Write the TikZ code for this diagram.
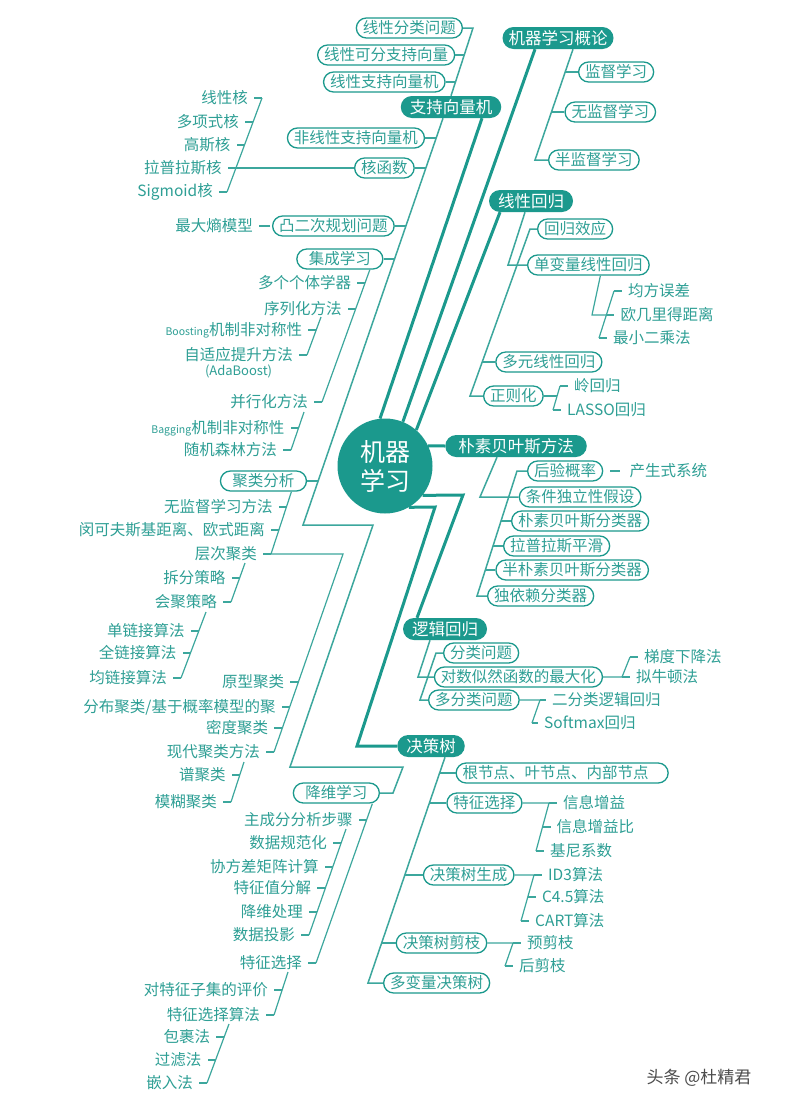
\documentclass[tikz,border=0pt]{standalone}
\usepackage{fontspec}
\setmainfont{Noto Sans CJK SC}
\usetikzlibrary{positioning}
\definecolor{mlteal}{HTML}{1B998D}
\definecolor{mltext}{HTML}{2E9F95}
\definecolor{mlline}{HTML}{3CA79D}
\newcommand\mlhubfont{\fontsize{16.5}{18}\selectfont}
\newcommand\mltopicfont{\fontsize{15.5}{17}\selectfont}
\newcommand\mlsmallfont{\fontsize{10.5}{12}\selectfont}
\tikzset{corebox/.style={circle,fill=mlteal,text=white,minimum size=95pt,inner sep=0pt,align=center,font=\fontsize{25}{29}\selectfont},
hubbox/.style={fill=mlteal,text=white,rounded corners=11pt,minimum height=22pt,inner xsep=9pt,inner ysep=1pt,font=\mlhubfont},
topicbox/.style={draw=mlteal,line width=1.3pt,fill=white,text=mltext,rounded corners=10pt,minimum height=20pt,inner xsep=6.5pt,inner ysep=1pt,font=\mltopicfont},
mainbox/.style={topicbox,minimum width=86pt},
leaf/.style={text=mltext,inner sep=2pt,font=\mltopicfont},
trunk/.style={draw=mlteal,line width=3pt},
branch/.style={draw=mlline,line width=1.5pt},
twig/.style={draw=mlline,line width=1.2pt},
tick/.style={twig,shorten >=4pt}}
\begin{document}
\begin{tikzpicture}[x=1pt,y=-1pt]
\path[use as bounding box,fill=white] (0,0) rectangle (810,1100);
% centre and main branches
\node[corebox] (ml) at (385,466) {机器\\学习};
\node[hubbox,inner xsep=6pt] (intro) at (558,38) {机器学习概论};
\node[hubbox] (svm) at (451,107) {支持向量机};
\node[hubbox] (linreg) at (531,201) {线性回归};
\node[hubbox,inner xsep=13pt] (nb) at (516,446) {朴素贝叶斯方法};
\node[hubbox] (lr) at (445,629) {逻辑回归};
\node[hubbox] (dt) at (431,746) {决策树};
\coordinate (lrk) at (463,495);
\coordinate (dtk1) at (435,507);
\coordinate (dtk2) at (357,746);
\draw[trunk] (ml.96) -- ([xshift=31pt]svm.south);
\draw[trunk] (ml.68) -- ([xshift=-23pt]intro.south);
\draw[trunk] (ml.49) -- ([xshift=-31pt]linreg.south);
\draw[trunk] (ml.25) -- (nb.west);
\draw[trunk] (ml.-38) -- (lrk) -- ([xshift=-28pt]lr.north);
\draw[trunk] (ml.-60) -- (dtk1) -- (dtk2) -- (dt.west);
% support vector machine
\coordinate (u0) at (473,28);
\coordinate (u1) at (464.3,55);
\coordinate (u2) at (455.7,82);
\node[topicbox,left=10pt of u0] (svm1) {线性分类问题};
\node[topicbox,left=9pt of u1] (svm2) {线性可分支持向量};
\node[topicbox,left=10pt of u2] (svm3) {线性支持向量机};
\draw[branch] (svm1) -- (u0) -- (svm.north);
\draw[branch] (svm2) -- (u1) (svm3) -- (u2);
\coordinate (sa) at ([xshift=-8pt]svm.south);
\coordinate (s1) at (436.1,138);
\coordinate (s2) at (425.8,168);
\coordinate (s3) at (405.8,226);
\coordinate (s4) at (394.5,259);
\coordinate (s5) at (318.1,481);
\coordinate (sp) at (303,525);
\coordinate (sq) at (373,525);
\coordinate (sr) at (290,767);
\coordinate (ss) at (403,767);
\coordinate (st) at (393,793);
\node[topicbox,left=11pt of s1] (nlsvm) {非线性支持向量机};
\node[topicbox,left=11pt of s2] (kern) {核函数};
\node[topicbox,left=11pt of s3] (qp) {凸二次规划问题};
\node[mainbox,left=11pt of s4] (ens) {集成学习};
\node[mainbox,left=11pt of s5] (clu) {聚类分析};
\node[mainbox,left=13pt of st] (dr) {降维学习};
\draw[branch] (sa) -- (sp) -- (sq) -- (sr) -- (ss) -- (st) -- (dr);
\draw[branch] (nlsvm) -- (s1) (kern) -- (s2) (qp) -- (s3) (ens) -- (s4) (clu) -- (s5);
% kernels
\coordinate (k1) at (262,98);
\coordinate (k2) at (253.1,122);
\coordinate (k3) at (244.5,145);
\coordinate (k4) at (235.9,168);
\coordinate (k5) at (227,192);
\node[leaf,left=12pt of k1] (kl1) {线性核};
\node[leaf,left=12pt of k2] (kl2) {多项式核};
\node[leaf,left=12pt of k3] (kl3) {高斯核};
\node[leaf,left=12pt of k4] (kl4) {拉普拉斯核};
\node[leaf,left=12pt of k5] (kl5) {Sigmoid核};
\draw[twig] (kern) -- (k4);
\draw[twig] (k1) -- (k5);
\draw[tick] (k1) edge (kl1) (k2) edge (kl2) (k3) edge (kl3) (k4) edge (kl4) (k5) edge (kl5);
\node[leaf,left=17pt of qp] (maxent) {最大熵模型};
\draw[tick,shorten <=2pt] (qp) -- (maxent);
% ensemble learning
\coordinate (e0) at ([xshift=30pt]ens.south);
\coordinate (e1) at (365.4,283);
\coordinate (e2) at (355.9,309);
\coordinate (e3) at (322,402);
\node[leaf,left=12pt of e1] (el1) {多个个体学器};
\node[leaf,left=12pt of e2] (el2) {序列化方法};
\node[leaf,left=12pt of e3] (el3) {并行化方法};
\draw[twig] (e0) -- (e3);
\draw[tick] (e1) edge (el1) (e2) edge (el2) (e3) edge (el3);
\coordinate (b1) at (321,317);
\coordinate (b2) at (316.2,330);
\coordinate (b3) at (307,355);
\node[leaf,left=12pt of b2] (bl1) {{\mlsmallfont Boosting}机制非对称性};
\node[leaf,left=12pt of b3] (bl2) {自适应提升方法};
\node[leaf,below=-2pt of bl2,font=\fontsize{13}{15}\selectfont] (bl3) {(AdaBoost)};
\draw[twig] (b1) -- (b3);
\draw[tick] (b2) edge (bl1) (b3) edge (bl2);
\coordinate (p1) at (304,412);
\coordinate (p2) at (298.5,428);
\coordinate (p3) at (291,450);
\node[leaf,left=12pt of p2] (pl1) {{\mlsmallfont Bagging}机制非对称性};
\node[leaf,left=12pt of p3] (pl2) {随机森林方法};
\draw[twig] (p1) -- (p3);
\draw[tick] (p2) edge (pl1) (p3) edge (pl2);
% clustering
\coordinate (c0) at ([xshift=28pt]clu.south);
\coordinate (c1) at (286.8,507);
\coordinate (c2) at (279,530);
\coordinate (c3) at (271,554);
\coordinate (c4) at (343,554);
\coordinate (c5) at (298.4,682);
\coordinate (c6) at (289.7,707);
\coordinate (c7) at (282.4,728);
\coordinate (c8) at (274,752);
\node[leaf,left=12pt of c1] (cl1) {无监督学习方法};
\node[leaf,left=12pt of c2] (cl2) {闵可夫斯基距离、欧式距离};
\node[leaf,left=12pt of c3] (cl3) {层次聚类};
\node[leaf,left=12pt of c5] (cl4) {原型聚类};
\node[leaf,left=12pt of c6] (cl5) {分布聚类/基于概率模型的聚};
\node[leaf,left=12pt of c7] (cl6) {密度聚类};
\node[leaf,left=12pt of c8] (cl7) {现代聚类方法};
\draw[twig] (c0) -- (c3) -- (c4) -- (c8);
\draw[tick] (c1) edge (cl1) (c2) edge (cl2) (c3) edge (cl3) (c5) edge (cl4) (c6) edge (cl5) (c7) edge (cl6) (c8) edge (cl7);
\coordinate (h1) at (245,563);
\coordinate (h2) at (239.6,578);
\coordinate (h3) at (231,602);
\node[leaf,left=12pt of h2] (hl1) {拆分策略};
\node[leaf,left=12pt of h3] (hl2) {会聚策略};
\draw[twig] (h1) -- (h3);
\draw[tick] (h2) edge (hl1) (h3) edge (hl2);
\coordinate (g1) at (206,612);
\coordinate (g2) at (198.8,631);
\coordinate (g3) at (190.5,653);
\coordinate (g4) at (181,678);
\node[leaf,left=12pt of g2] (gl1) {单链接算法};
\node[leaf,left=12pt of g3] (gl2) {全链接算法};
\node[leaf,left=12pt of g4] (gl3) {均链接算法};
\draw[twig] (g1) -- (g4);
\draw[tick] (g2) edge (gl1) (g3) edge (gl2) (g4) edge (gl3);
\coordinate (m1) at (244,762);
\coordinate (m2) at (239.8,775);
\coordinate (m3) at (231,802);
\node[leaf,left=12pt of m2] (mo1) {谱聚类};
\node[leaf,left=12pt of m3] (mo2) {模糊聚类};
\draw[twig] (m1) -- (m3);
\draw[tick] (m2) edge (mo1) (m3) edge (mo2);
% dimension reduction
\coordinate (d0) at ([xshift=36pt]dr.south);
\coordinate (d1) at (366.9,820);
\coordinate (d2) at (316,963);
\node[leaf,left=12pt of d1] (dl1) {主成分分析步骤};
\node[leaf,left=12pt of d2] (dl2) {特征选择};
\draw[twig] (d0) -- (d2);
\draw[tick] (d1) edge (dl1) (d2) edge (dl2);
\coordinate (q0) at (346,829);
\coordinate (q1) at (341.1,843);
\coordinate (q2) at (332.7,867);
\coordinate (q3) at (325.4,888);
\coordinate (q4) at (317,912);
\coordinate (q5) at (309,935);
\node[leaf,left=12pt of q1] (ql1) {数据规范化};
\node[leaf,left=12pt of q2] (ql2) {协方差矩阵计算};
\node[leaf,left=12pt of q3] (ql3) {特征值分解};
\node[leaf,left=12pt of q4] (ql4) {降维处理};
\node[leaf,left=12pt of q5] (ql5) {数据投影};
\draw[twig] (q0) -- (q5);
\draw[tick] (q1) edge (ql1) (q2) edge (ql2) (q3) edge (ql3) (q4) edge (ql4) (q5) edge (ql5);
\coordinate (f0) at (288,972);
\coordinate (f1) at (282.1,990);
\coordinate (f2) at (274,1015);
\node[leaf,left=12pt of f1] (fl1) {对特征子集的评价};
\node[leaf,left=12pt of f2] (fl2) {特征选择算法};
\draw[twig] (f0) -- (f2);
\draw[tick] (f1) edge (fl1) (f2) edge (fl2);
\coordinate (w0) at (229,1024);
\coordinate (w1) at (224.2,1037);
\coordinate (w2) at (215.6,1060);
\coordinate (w3) at (207,1083);
\node[leaf,left=12pt of w1] (wl1) {包裹法};
\node[leaf,left=12pt of w2] (wl2) {过滤法};
\node[leaf,left=12pt of w3] (wl3) {嵌入法};
\draw[twig] (w0) -- (w3);
\draw[tick] (w1) edge (wl1) (w2) edge (wl2) (w3) edge (wl3);
% introduction
\coordinate (i0) at ([xshift=15pt]intro.south);
\coordinate (i1) at (565,72);
\coordinate (i2) at (551.4,112);
\coordinate (i3) at (535,160);
\node[topicbox,right=13pt of i1] (sup) {监督学习};
\node[topicbox,right=13pt of i2] (unsup) {无监督学习};
\node[topicbox,right=13pt of i3] (semi) {半监督学习};
\draw[branch] (i0) -- (i3) -- (semi);
\draw[branch] (i1) -- (sup) (i2) -- (unsup);
% linear regression
\coordinate (la0) at ([xshift=-6pt]linreg.south);
\coordinate (la1) at (508,265);
\coordinate (lb0) at (530,229);
\coordinate (lb2) at (482.2,362);
\coordinate (lb3) at (470,396);
\node[topicbox,right=7pt of lb0] (effect) {回归效应};
\node[topicbox,right=19pt of la1] (uni) {单变量线性回归};
\node[topicbox,right=13pt of lb2] (multireg) {多元线性回归};
\node[topicbox,right=13pt of lb3] (reg) {正则化};
\draw[branch] (la0) -- (la1) -- (uni);
\draw[branch] (effect) -- (lb0) -- (lb3) -- (reg);
\draw[branch] (lb2) -- (multireg);
\coordinate (ua0) at ([xshift=12pt]uni.south);
\coordinate (ua1) at (592,315);
\coordinate (ub0) at (614,291);
\coordinate (ub1) at (606.3,315);
\coordinate (ub2) at (599,338);
\node[leaf,right=12pt of ub0] (uv1) {均方误差};
\node[leaf,right=12pt of ub1] (uv2) {欧几里得距离};
\node[leaf,right=12pt of ub2] (uv3) {最小二乘法};
\draw[twig] (ua0) -- (ua1) -- (ub1);
\draw[twig] (ub0) -- (ub2);
\draw[tick] (ub0) edge (uv1) (ub1) edge (uv2) (ub2) edge (uv3);
\coordinate (rg0) at (560,386);
\coordinate (rg1) at (557.1,396);
\coordinate (rg2) at (553,410);
\node[leaf,right=12pt of rg0] (ridge) {岭回归};
\node[leaf,right=12pt of rg2] (lasso) {LASSO回归};
\draw[twig] (reg) -- (rg1);
\draw[twig] (rg0) -- (rg2);
\draw[tick] (rg0) edge (ridge) (rg2) edge (lasso);
% naive bayes
\coordinate (na0) at ([xshift=-19pt]nb.south);
\coordinate (na1) at (480,497);
\coordinate (nb0) at (517,471);
\coordinate (nb1) at (508.7,497);
\coordinate (nb2) at (501,521);
\coordinate (nb3) at (493,546);
\coordinate (nb4) at (485.3,570);
\coordinate (nb5) at (477,596);
\node[topicbox,right=10pt of nb0] (post) {后验概率};
\node[topicbox,right=10pt of nb1] (indep) {条件独立性假设};
\node[topicbox,right=10pt of nb2] (nbc) {朴素贝叶斯分类器};
\node[topicbox,right=10pt of nb3] (lap) {拉普拉斯平滑};
\node[topicbox,right=10pt of nb4] (snb) {半朴素贝叶斯分类器};
\node[topicbox,right=10pt of nb5] (ode) {独依赖分类器};
\node[leaf,right=24pt of post] (gensys) {产生式系统};
\draw[branch] (na0) -- (na1) -- (indep);
\draw[branch] (post) -- (nb0) -- (nb5) -- (ode);
\draw[branch] (nb2) -- (nbc) (nb3) -- (lap) (nb4) -- (snb);
\draw[twig,shorten <=7pt,shorten >=7pt] (post) -- (gensys);
% logistic regression
\coordinate (lra0) at ([xshift=-15pt]lr.south);
\coordinate (lra1) at (418,677);
\coordinate (lrb0) at (436,653);
\coordinate (lrb1) at (427.8,677);
\coordinate (lrb2) at (420,700);
\node[topicbox,right=7pt of lrb0] (cls) {分类问题};
\node[topicbox,right=6pt of lrb1] (loglik) {对数似然函数的最大化};
\node[topicbox,right=8pt of lrb2] (mclass) {多分类问题};
\draw[branch] (lra0) -- (lra1) -- (loglik);
\draw[branch] (cls) -- (lrb0) -- (lrb2) -- (mclass);
\coordinate (ll0) at (630,657);
\coordinate (ll1) at (622,677);
\node[leaf,right=12pt of ll0] (grad) {梯度下降法};
\node[leaf,right=12pt of ll1] (newton) {拟牛顿法};
\draw[twig] (loglik) -- (ll1) -- (ll0);
\draw[tick] (ll0) edge (grad) (ll1) edge (newton);
\coordinate (mc0) at (540,700);
\coordinate (mc1) at (532,723);
\node[leaf,right=10pt of mc0] (bin) {二分类逻辑回归};
\node[leaf,right=10pt of mc1] (softmax) {Softmax回归};
\draw[twig] (mclass) -- (mc0) -- (mc1);
\draw[tick] (mc0) edge (bin) (mc1) edge (softmax);
% decision tree
\coordinate (t0) at ([xshift=14pt]dt.south);
\coordinate (t1) at (439.5,773);
\coordinate (t2) at (429.3,803);
\coordinate (t3) at (404.8,875);
\coordinate (t4) at (381.6,943);
\coordinate (t5) at (368,983);
\node[topicbox,right=16pt of t1,text width=199pt] (dt1) {根节点、叶节点、内部节点};
\node[topicbox,right=17pt of t2] (dt2) {特征选择};
\node[topicbox,right=18pt of t3] (dt3) {决策树生成};
\node[topicbox,right=14pt of t4] (dt4) {决策树剪枝};
\node[topicbox,right=15pt of t5] (dt5) {多变量决策树};
\draw[branch] (t0) -- (t5) -- (dt5);
\draw[branch] (t1) -- (dt1) (t2) -- (dt2) (t3) -- (dt3) (t4) -- (dt4);
\coordinate (fs0) at (549,803);
\coordinate (fs1) at (542.5,827);
\coordinate (fs2) at (536,851);
\node[leaf,right=12pt of fs0] (ig1) {信息增益};
\node[leaf,right=12pt of fs1] (ig2) {信息增益比};
\node[leaf,right=12pt of fs2] (ig3) {基尼系数};
\draw[twig] (dt2) -- (fs0) -- (fs2);
\draw[tick] (fs0) edge (ig1) (fs1) edge (ig2) (fs2) edge (ig3);
\coordinate (gn0) at (534,875);
\coordinate (gn1) at (527.8,897);
\coordinate (gn2) at (521,921);
\node[leaf,right=12pt of gn0] (alg1) {ID3算法};
\node[leaf,right=12pt of gn1] (alg2) {C4.5算法};
\node[leaf,right=12pt of gn2] (alg3) {CART算法};
\draw[twig] (dt3) -- (gn0) -- (gn2);
\draw[tick] (gn0) edge (alg1) (gn1) edge (alg2) (gn2) edge (alg3);
\coordinate (pr0) at (513,943);
\coordinate (pr1) at (505,966);
\node[leaf,right=12pt of pr0] (pre) {预剪枝};
\node[leaf,right=12pt of pr1] (postp) {后剪枝};
\draw[twig] (dt4) -- (pr0) -- (pr1);
\draw[tick] (pr0) edge (pre) (pr1) edge (postp);
\node[font=\fontsize{17}{19}\selectfont,text=black!70] (wm) at (699,1078) {头条 @杜精君};
\end{tikzpicture}
\end{document}
